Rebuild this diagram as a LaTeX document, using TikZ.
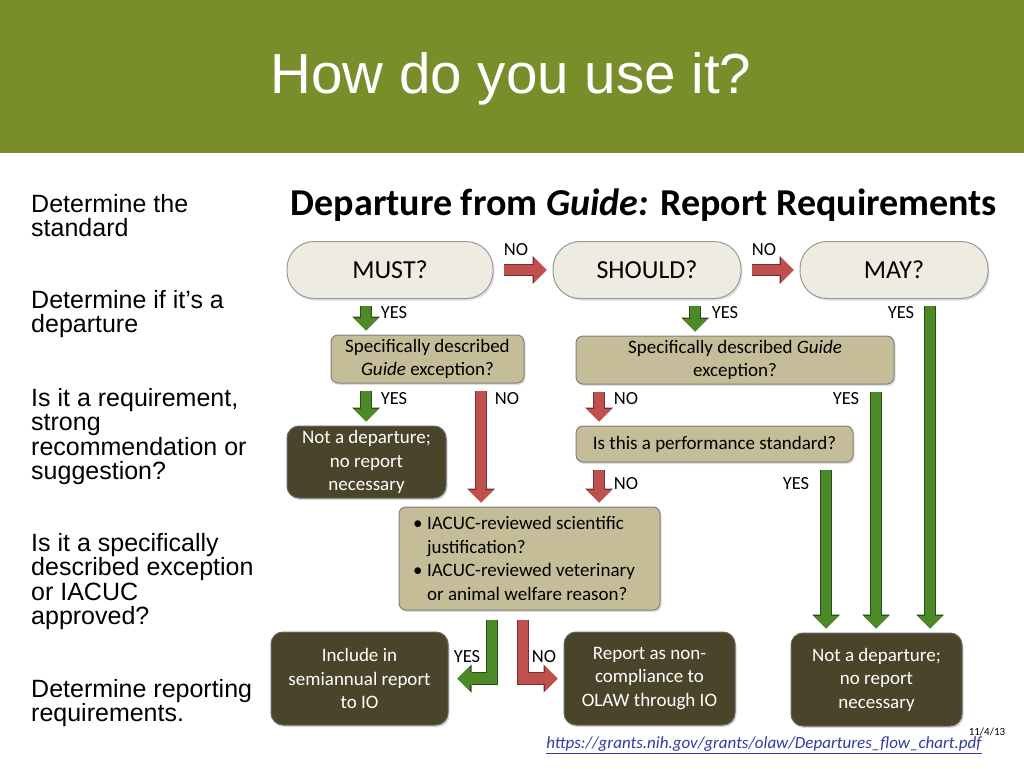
\documentclass[tikz,border=0pt]{standalone}
\usepackage{fontspec}
\setmainfont{Carlito}
\newfontfamily\arialfont{Liberation Sans}
\usepackage{tikz}
\usetikzlibrary{positioning}
\usetikzlibrary{calc}
\usetikzlibrary{arrows.meta,shadows}
\definecolor{headgreen}{RGB}{121,142,42}
\definecolor{pillfill}{RGB}{238,236,225}
\definecolor{khaki}{RGB}{196,189,151}
\definecolor{darkbox}{RGB}{74,69,42}
\definecolor{yesgreen}{RGB}{76,138,40}
\definecolor{nored}{RGB}{192,80,77}
\definecolor{urlblue}{RGB}{50,58,160}
\newcommand{\bul}{\makebox[14pt][l]{\textbullet}}
\newcommand{\hng}{\hspace*{14pt}}
\tikzstyle{pill} = [rectangle, rounded corners=27pt, minimum height=57pt, text centered, draw=black!40, line width=1pt, fill=pillfill, font=\fontsize{26}{30}\selectfont, drop shadow={shadow xshift=1.5pt, shadow yshift=-2pt, opacity=0.25}]
\tikzstyle{question} = [rectangle, rounded corners=7pt, draw=black!50, line width=1pt, fill=khaki, align=center, font=\fontsize{19}{23.5}\selectfont, drop shadow={shadow xshift=1.5pt, shadow yshift=-2pt, opacity=0.25}]
\tikzstyle{outcome} = [rectangle, rounded corners=12pt, draw=black!60, line width=1pt, fill=darkbox, text=white, align=center, font=\fontsize{19}{23.5}\selectfont, drop shadow={shadow xshift=1.5pt, shadow yshift=-2pt, opacity=0.3}]
\tikzstyle{yesarrow} = [line width=10.5pt, draw=yesgreen, -{Triangle[length=12.5pt,width=25pt,line width=0pt]}, shorten <=7pt, shorten >=4pt, preaction={draw=yesgreen!55!black, line width=12.5pt, -{Triangle[length=14pt,width=28pt,line width=0pt]}}]
\tikzstyle{noarrow} = [line width=10.5pt, draw=nored, -{Triangle[length=12.5pt,width=25pt,line width=0pt]}, shorten <=7pt, shorten >=4pt, preaction={draw=nored!60!black, line width=12.5pt, -{Triangle[length=14pt,width=28pt,line width=0pt]}}]
\tikzstyle{answer} = [inner sep=0pt, font=\fontsize{18.5}{20}\selectfont]
\tikzstyle{sidetext} = [inner sep=0pt, anchor=north west, align=left, font=\arialfont\fontsize{25}{24.5}\selectfont]

\begin{document}
\begin{tikzpicture}[x=1pt,y=-1pt]
\useasboundingbox (0,0) rectangle (1024,768);
\fill [headgreen] (0,0) rectangle (1024,153);
\node (T) [text=white, font=\arialfont\fontsize{56.5}{60}\selectfont] at (511,79) {How do you use it?};

\node (L1) [sidetext] at (31,194) {Determine the\\standard};
\node (L2) [sidetext] at (31,290) {Determine if it’s a\\departure};
\node (L3) [sidetext] at (31,388) {Is it a requirement,\\strong\\recommendation or\\suggestion?};
\node (L4) [sidetext] at (31,533) {Is it a specifically\\described exception\\or IACUC\\approved?};
\node (L5) [sidetext] at (31,679) {Determine reporting\\requirements.};

\node (H) [font=\bfseries\fontsize{38}{44}\selectfont] at (644,205) {Departure from \textit{Guide:} Report Requirements};

\node (Q1) [pill, minimum width=206pt] at (390,270) {MUST?};
\node (Q2) [pill, minimum width=188pt] at (647,270) {SHOULD?};
\node (Q3) [pill, minimum width=188pt] at (894,270) {MAY?};
\node (E1) [question, minimum width=193pt, minimum height=48pt] at (427.5,359) {Specifically described\\\textit{Guide} exception?};
\node (E2) [question, minimum width=318pt, minimum height=48pt] at (735,360) {Specifically described \textit{Guide}\\exception?};
\node (N1) [outcome, minimum width=159pt, minimum height=72pt] at (366.5,462) {Not a departure;\\no report\\necessary};
\node (S1) [question, minimum width=277pt, minimum height=36pt] at (714.5,444) {Is this a performance standard?};
\node (J1) [question, minimum width=261pt, minimum height=103pt, align=left] at (529.5,558.5) {\bul IACUC-reviewed scientific\\\hng justification?\\\bul IACUC-reviewed veterinary\rule{11pt}{0pt}\\\hng or animal welfare reason?};
\node (R1) [outcome, minimum width=177pt, minimum height=93pt] at (359.5,678.5) {Include in\\semiannual report\\to IO};
\node (R2) [outcome, minimum width=171pt, minimum height=93pt] at (649.5,678.5) {Report as non-\\compliance to\\OLAW through IO};
\node (N2) [outcome, minimum width=171pt, minimum height=93pt] at (876.5,679.5) {Not a departure;\\no report\\necessary};

\coordinate (xa) at (366,0);
\coordinate (xb) at (481,0);
\coordinate (xc) at (599,0);
\coordinate (xd) at (695,0);
\coordinate (xe) at (826,0);
\coordinate (xf) at (876,0);
\coordinate (xg) at (930,0);
\coordinate (xh) at (492,0);
\coordinate (xi) at (523,0);

\draw [noarrow, shorten <=10pt, shorten >=6pt] (Q1) -- (Q2);
\draw [noarrow, shorten <=10pt, shorten >=6pt] (Q2) -- (Q3);
\draw [yesarrow] (Q1.south -| xa) -- (E1.north -| xa);
\draw [yesarrow] (Q2.south -| xd) -- (E2.north -| xd);
\draw [yesarrow] (Q3.south -| xg) -- (N2.north -| xg);
\draw [yesarrow] (E1.south -| xa) -- (N1.north -| xa);
\draw [noarrow] (E1.south -| xb) -- (J1.north -| xb);
\draw [noarrow] (E2.south -| xc) -- (S1.north -| xc);
\draw [yesarrow] (E2.south -| xf) -- (N2.north -| xf);
\draw [noarrow] (S1.south -| xc) -- (J1.north -| xc);
\draw [yesarrow] (S1.south -| xe) -- (N2.north -| xe);
\draw [yesarrow, shorten <=9pt, shorten >=9pt] (J1.south -| xh) |- (R1.east);
\draw [noarrow, shorten <=9pt, shorten >=6pt] (J1.south -| xi) |- (R2.west);

\node (A1) [answer] at (516,250) {NO};
\node (A2) [answer] at (764,250) {NO};
\node (A3) [answer] at (394,313) {YES};
\node (A4) [answer] at (725,313) {YES};
\node (A5) [answer] at (901,313) {YES};
\node (A6) [answer] at (394,399) {YES};
\node (A7) [answer] at (507,399) {NO};
\node (A8) [answer] at (626,399) {NO};
\node (A9) [answer] at (846,399) {YES};
\node (A10) [answer] at (626,484) {NO};
\node (A11) [answer] at (796,484) {YES};
\node (A12) [answer] at (467,657) {YES};
\node (A13) [answer] at (544,657) {NO};

\node (D) [font=\fontsize{11}{12}\selectfont] at (987,732) {11/4/13};
\node (U) [text=urlblue, font=\itshape\fontsize{17}{20}\selectfont] at (764,745) {\underline{https://grants.nih.gov/grants/olaw/Departures\_flow\_chart.pdf}};
\end{tikzpicture}
\end{document}
